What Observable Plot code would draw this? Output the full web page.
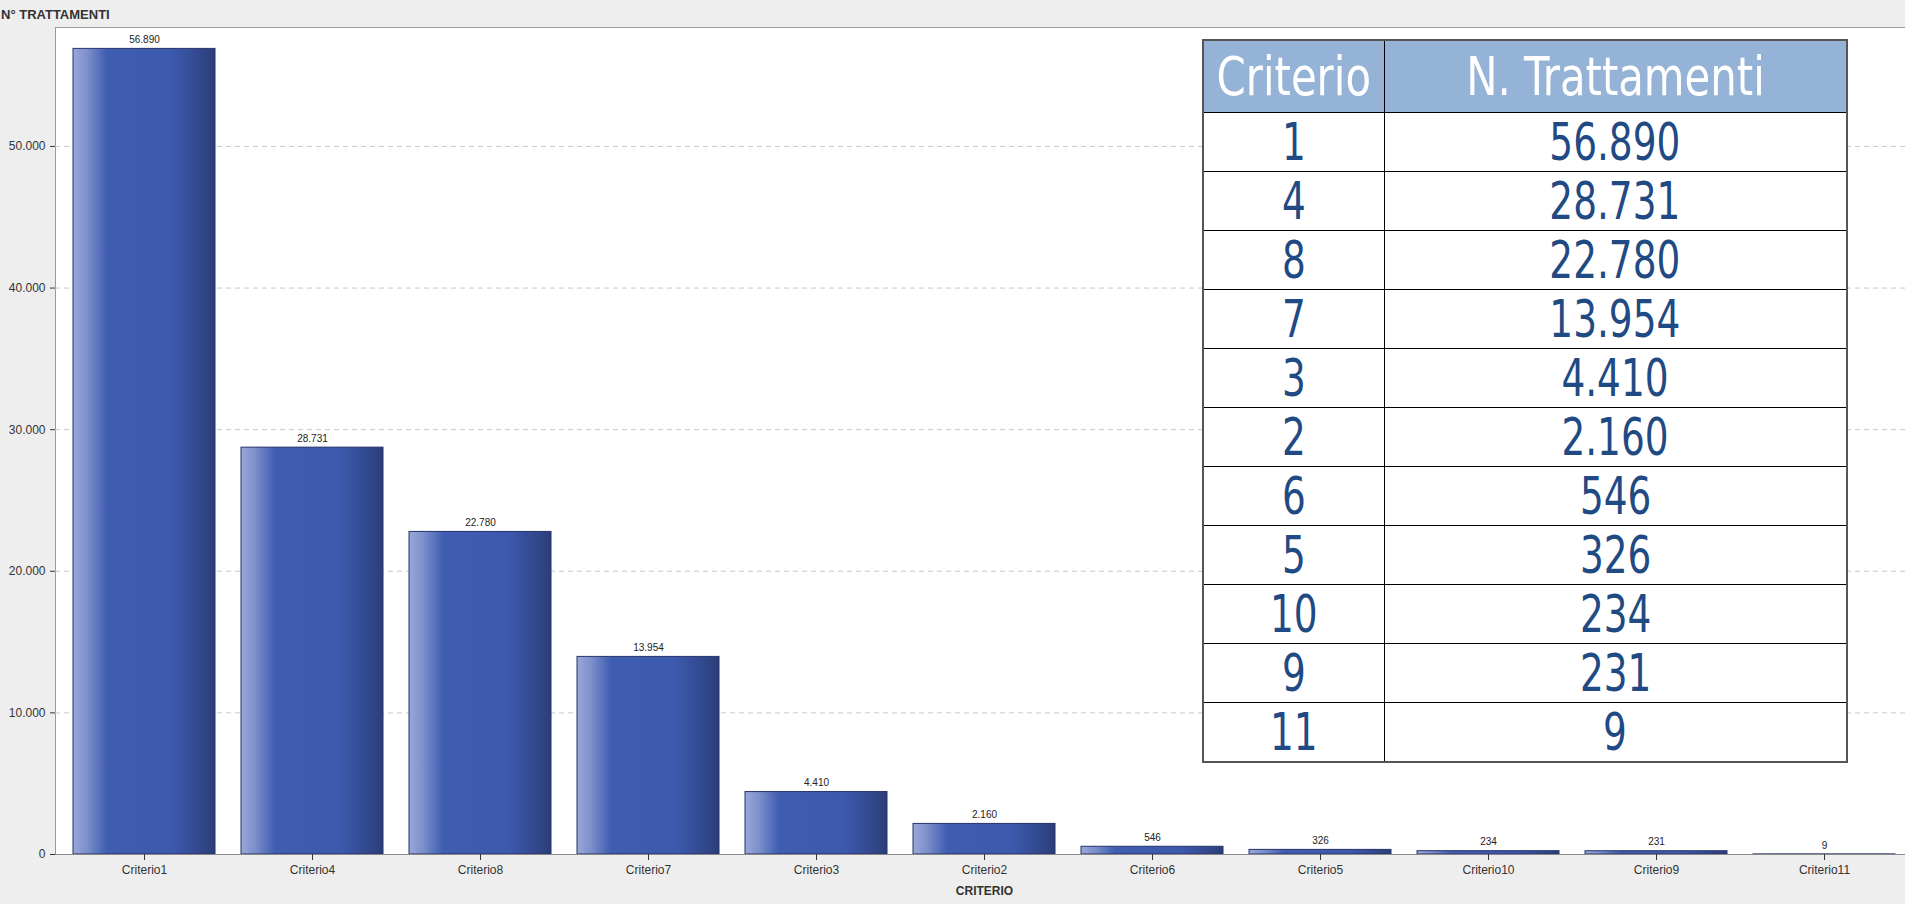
<!DOCTYPE html>
<html>
<head>
<meta charset="utf-8">
<script src="https://cdn.jsdelivr.net/npm/d3@7"></script>
<script src="https://cdn.jsdelivr.net/npm/@observablehq/plot@0.6"></script>
<style>
  html, body { margin: 0; padding: 0; }
  body { width: 1905px; height: 904px; overflow: hidden; position: relative; background: #eeeeee; font-family: "Liberation Sans", Arial, sans-serif; }
  #title { position: absolute; left: 1px; top: 0; height: 27px; line-height: 29px; font-size: 13px; font-weight: bold; color: #333; }
  #chart { position: absolute; left: 0; top: 27px; }
  #tbl { position: absolute; left: 1202px; top: 39px; border-collapse: collapse; table-layout: fixed; width: 644px;
         font-family: "DejaVu Sans Condensed", "DejaVu Sans", sans-serif; border: 2px solid #555; }
  #tbl td, #tbl th { border: 1px solid #000; text-align: center; padding: 0; overflow: hidden; white-space: nowrap; }
  #tbl th { background: #95b3d7; color: #fff; font-weight: normal; font-size: 54px; height: 71px; line-height: 71px; }
  #tbl td { background: #fff; color: #1f4a83; font-size: 52px; height: 58px; line-height: 58px; }
  #tbl span { display: inline-block; transform-origin: 50% 50%; }
  #tbl th span { transform: scaleX(0.86); }
  #tbl td span { transform: scaleX(0.8); }
</style>
</head>
<body>
<div id="title">N° TRATTAMENTI</div>
<div id="chart"></div>
<script>
const categories = ["Criterio1","Criterio4","Criterio8","Criterio7","Criterio3","Criterio2","Criterio6","Criterio5","Criterio10","Criterio9","Criterio11"];
const criterioNumbers = [1, 4, 8, 7, 3, 2, 6, 5, 10, 9, 11];
const values = [56890, 28731, 22780, 13954, 4410, 2160, 546, 326, 234, 231, 9];
const yTicks = [0, 10000, 20000, 30000, 40000, 50000];
const tableHeaders = ["Criterio", "N. Trattamenti"];

const locale = d3.formatLocale({decimal: ",", thousands: ".", grouping: [3], currency: ["€", ""]});
const fmt = locale.format(",d");

const data = categories.map((c, i) => ({cat: c, val: values[i]}));

const chart = Plot.plot({
  width: 1913,
  height: 877,
  marginLeft: 55,
  marginRight: 0,
  marginTop: 0,
  marginBottom: 50,
  style: {background: "transparent", fontFamily: "'Liberation Sans', Arial, sans-serif", fontSize: "12px", color: "#333", maxWidth: "none", overflow: "visible"},
  x: {domain: categories, paddingInner: 0.156, paddingOuter: 0.1},
  y: {domain: [0, 58400]},
  marks: [
    Plot.frame({fill: "white", stroke: "#999"}),
    Plot.gridY(yTicks.slice(1), {stroke: "#c8c8c8", strokeOpacity: 1, strokeDasharray: "5,4"}),
    Plot.barY(data, {x: "cat", y: "val", fill: "url(#barGrad)", stroke: "#26336b", strokeWidth: 1}),
    Plot.text(data, {x: "cat", y: "val", text: d => fmt(d.val), dy: -9, fontSize: 10, fill: "#222"}),
    Plot.ruleY([0], {stroke: "#888"}),
    Plot.axisY({ticks: yTicks, tickFormat: fmt, tickSize: 5, tickPadding: 5, label: null, fontSize: 12}),
    Plot.axisX({tickSize: 6, tickPadding: 5, label: null, fontSize: 12}),
    Plot.text(["CRITERIO"], {frameAnchor: "bottom", dy: 40, fontWeight: "bold", fontSize: 12, fill: "#333"})
  ]
});

const defs = d3.select(chart).insert("defs", ":first-child");
const g = defs.append("linearGradient").attr("id", "barGrad").attr("x1", 0).attr("x2", 1).attr("y1", 0).attr("y2", 0);
[[0, "#9aa8d8"], [0.1, "#7d8fcc"], [0.24, "#405db1"], [0.7, "#3c59ad"], [0.88, "#33498f"], [1, "#2c3d78"]]
  .forEach(([o, c]) => g.append("stop").attr("offset", o).attr("stop-color", c));

document.getElementById("chart").appendChild(chart);

// table
const tbl = document.createElement("table");
tbl.id = "tbl";
const cg = document.createElement("colgroup");
["181px", "463px"].forEach(w => { const col = document.createElement("col"); col.style.width = w; cg.appendChild(col); });
tbl.appendChild(cg);
function cell(tag, t) {
  const c = document.createElement(tag);
  const s = document.createElement("span");
  s.textContent = t;
  c.appendChild(s);
  return c;
}
const hr = document.createElement("tr");
tableHeaders.forEach(h => hr.appendChild(cell("th", h)));
tbl.appendChild(hr);
criterioNumbers.forEach((n, i) => {
  const tr = document.createElement("tr");
  [String(n), fmt(values[i])].forEach(t => tr.appendChild(cell("td", t)));
  tbl.appendChild(tr);
});
document.body.appendChild(tbl);
</script>
</body>
</html>
